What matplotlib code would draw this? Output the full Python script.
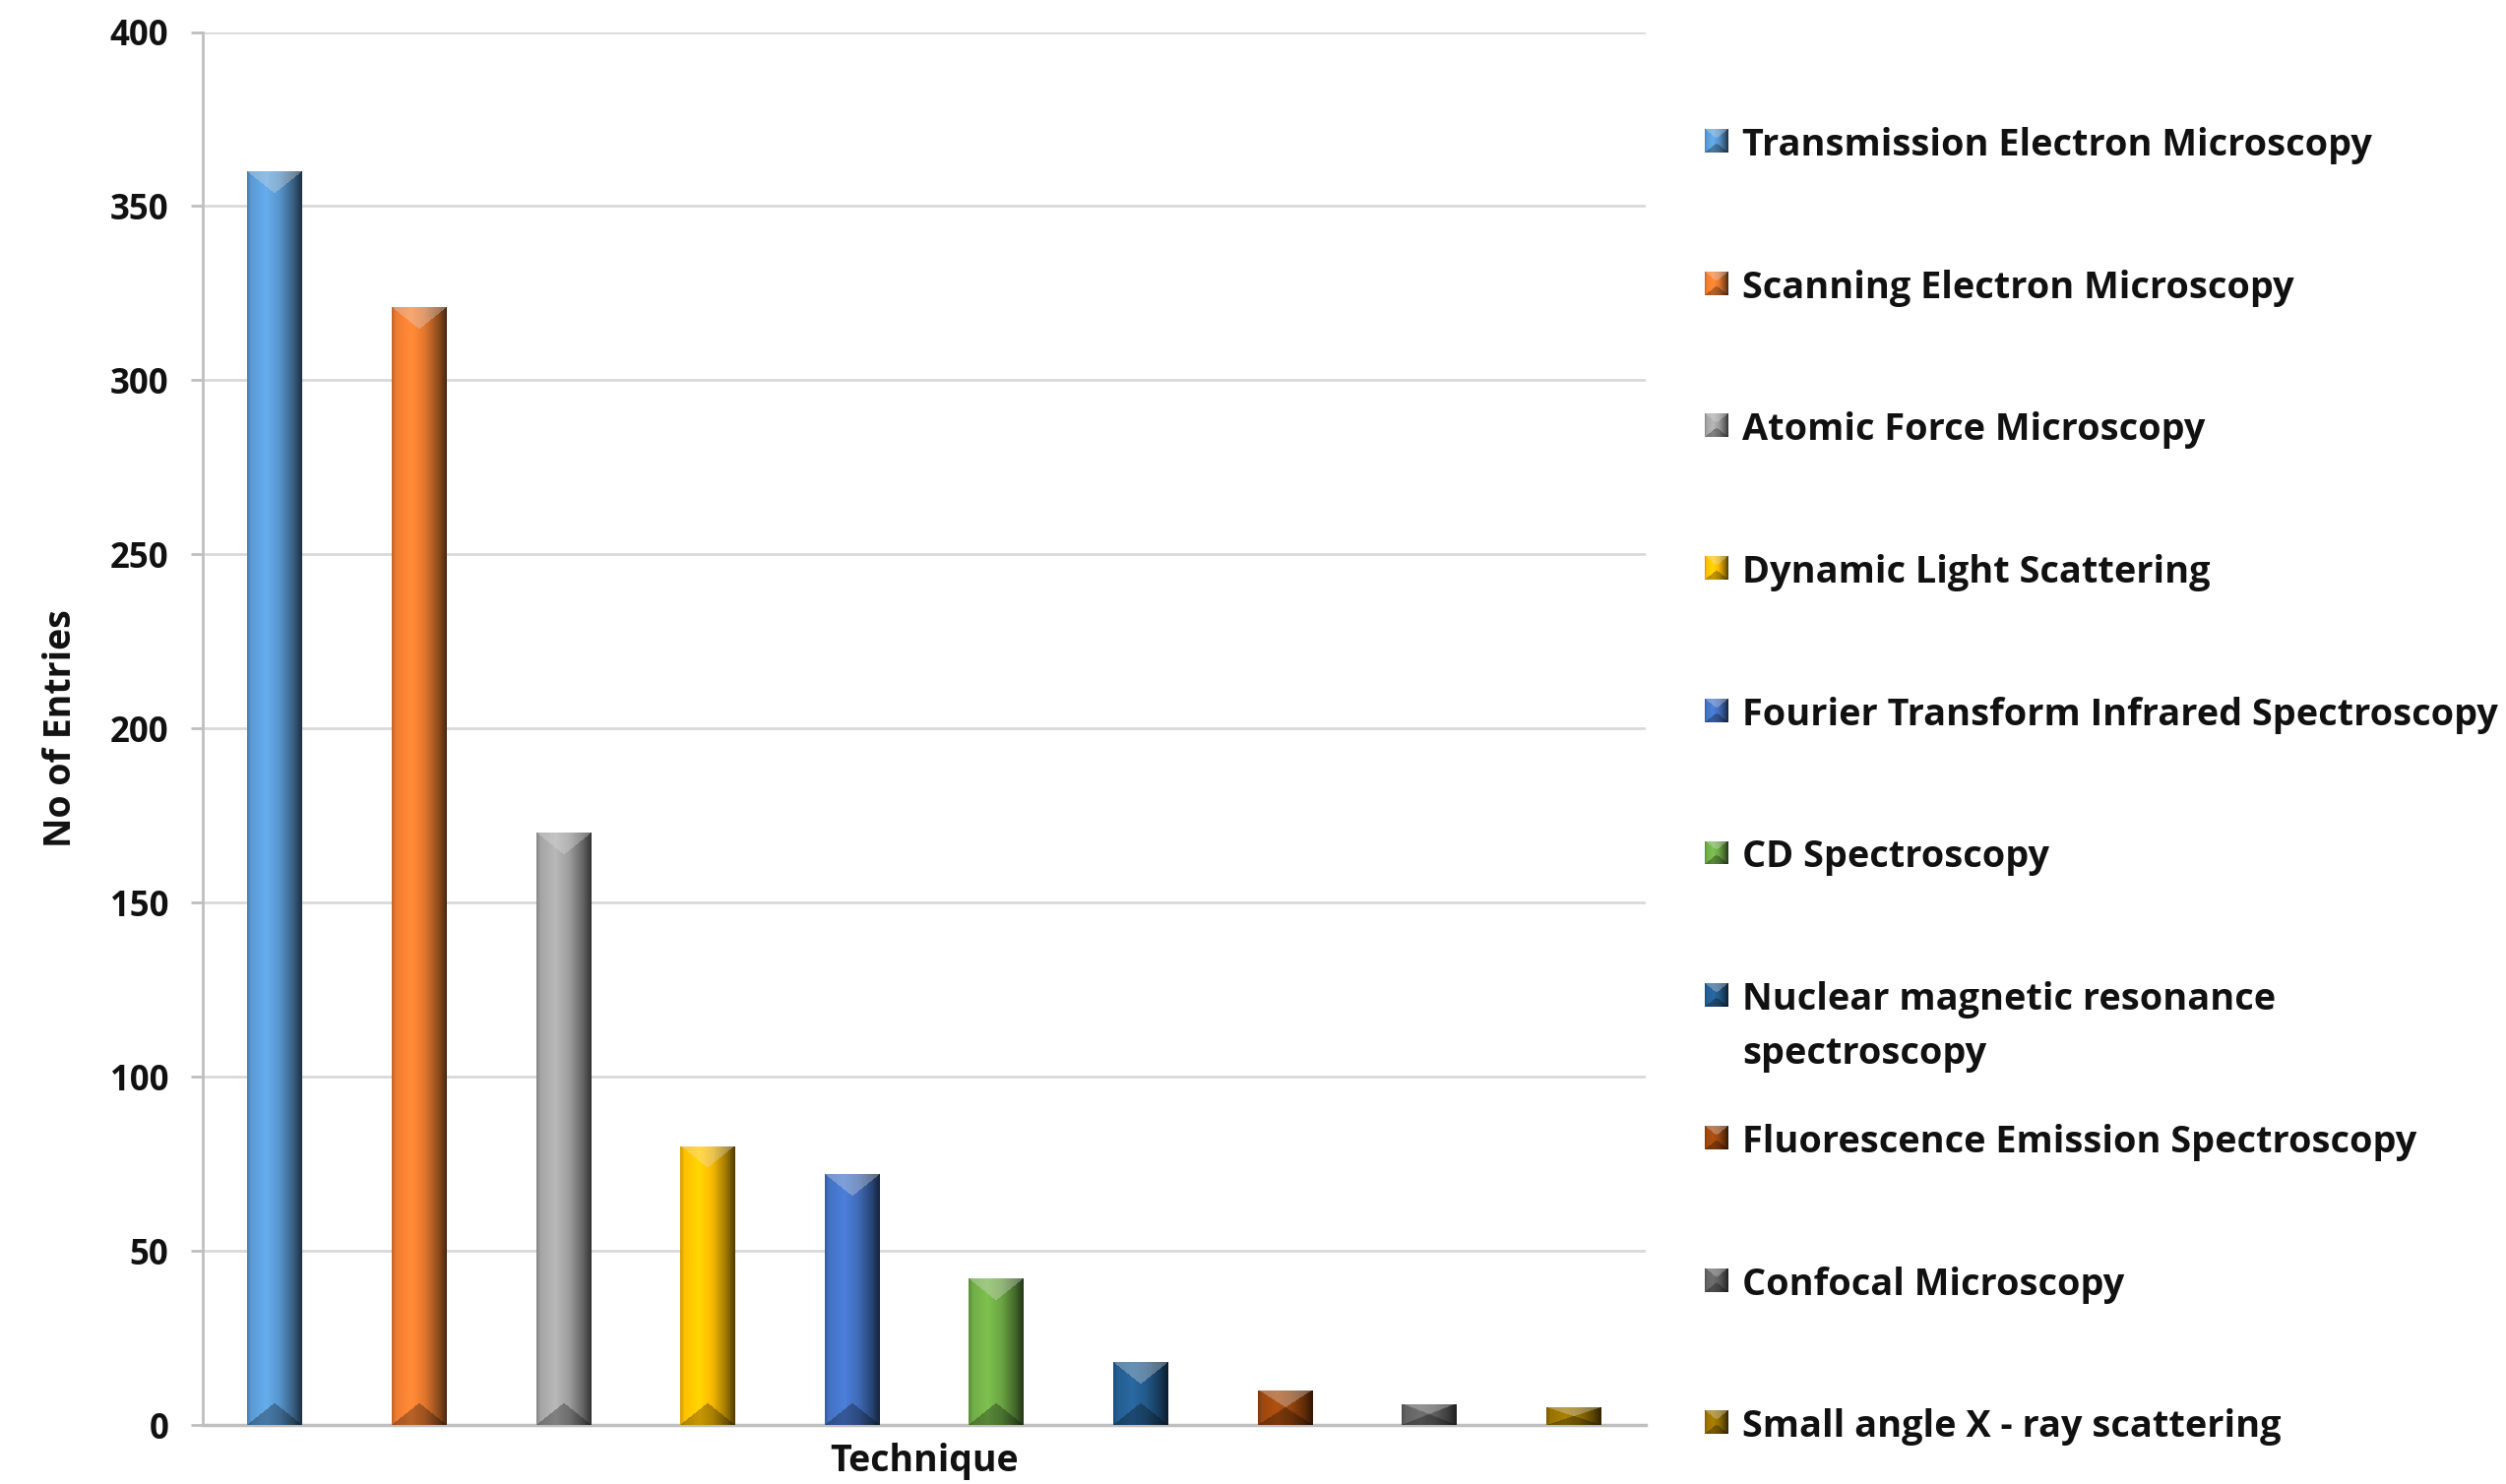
import numpy as np
import matplotlib
matplotlib.use("Agg")
import matplotlib.pyplot as plt
from matplotlib.colors import to_rgb

# Entries per characterisation technique
techniques = [
    "Transmission Electron Microscopy",
    "Scanning Electron Microscopy",
    "Atomic Force Microscopy",
    "Dynamic Light Scattering",
    "Fourier Transform Infrared Spectroscopy",
    "CD Spectroscopy",
    "Nuclear magnetic resonance\nspectroscopy",
    "Fluorescence Emission Spectroscopy",
    "Confocal Microscopy",
    "Small angle X - ray scattering",
]
entries = [360, 321, 170, 80, 72, 42, 18, 10, 6, 5]
colors = ["#5b9bd5", "#ed7d31", "#a5a5a5", "#ffc000", "#4472c4",
          "#70ad47", "#255e91", "#9e480e", "#636363", "#997300"]
yticks = [0, 50, 100, 150, 200, 250, 300, 350, 400]

W, H = 2546, 1508
FONT = "Open Sans"
FS = 27.3
TXT = "#111111"
GRID = "#d9d9d9"
AXC = "#bfbfbf"


def bevel_image(color, w_px, h_px):
  w = max(int(round(w_px)), 2)
  h = max(int(round(h_px)), 2)
  base = np.array(to_rgb(color))
  x = (np.arange(w) + 0.5) / w
  # cylinder-like shading across the bar
  prof = np.interp(x, [0, 0.08, 0.35, 0.6, 0.85, 1.0],
                   [0.8, 1.0, 1.12, 0.95, 0.6, 0.3])
  img = base[None, None, :] * prof[None, :, None] * np.ones((h, 1, 1))
  yy = np.arange(h)[:, None] + 0.5
  xx = np.arange(w)[None, :] + 0.5
  tri = 1 - np.abs(xx - w / 2) / (w / 2)
  depth = min(0.4 * w, h / 2)
  top = yy < depth * tri
  bottom = (h - yy) < depth * tri
  img[top] = img[top] * 0.65 + 0.3
  img[bottom] = img[bottom] * 0.7
  return np.clip(img, 0, 1)


fig = plt.figure(figsize=(W / 100, H / 100), dpi=100)
ax_l, ax_r = 206 / W, 1672 / W
ax_b, ax_t = 1 - 1448 / H, 1 - 32.5 / H
ax = fig.add_axes([ax_l, ax_b, ax_r - ax_l, ax_t - ax_b])

x = np.arange(len(entries))
bar_w = 0.38
ax.set_xlim(-0.5, len(entries) - 0.5)
ax.set_ylim(0, 400)
bars = ax.bar(x, entries, width=bar_w, color=colors, zorder=3)

px_x = (ax_r - ax_l) * W / len(entries)
px_y = (ax_t - ax_b) * H / 400
for b, c in zip(bars, colors):
  x0, w, h = b.get_x(), b.get_width(), b.get_height()
  im = ax.imshow(bevel_image(c, w * px_x, h * px_y), extent=(x0, x0 + w, 0, h),
                 aspect="auto", interpolation="bilinear", zorder=4)
  im.set_clip_path(b)

ax.set_xlim(-0.5, len(entries) - 0.5)
ax.set_ylim(0, 400)
ax.set_yticks(yticks)
ax.set_xticks([])
ax.yaxis.grid(True, color=GRID, lw=2, zorder=0)
ax.set_axisbelow(True)
for s in ["top", "right"]:
  ax.spines[s].set_visible(False)
ax.spines["left"].set_color(AXC)
ax.spines["left"].set_linewidth(2)
ax.spines["bottom"].set_color(AXC)
ax.spines["bottom"].set_linewidth(2.5)
ax.tick_params(axis="y", direction="out", length=9, width=2, color=AXC,
               labelsize=25, labelcolor=TXT, pad=16)
for lab in ax.get_yticklabels():
  lab.set_fontfamily(FONT)
  lab.set_fontweight("bold")

ax.set_xlabel("Technique", fontsize=27, fontweight="bold", family=FONT,
              color=TXT, labelpad=13)
ax.set_ylabel("No of Entries", fontsize=27, fontweight="bold", family=FONT,
              color=TXT, labelpad=22)

# legend on the right, one row per technique
sw = 24
for i, (name, c) in enumerate(zip(techniques, colors)):
  yc = 143 + 144.7 * i
  sax = fig.add_axes([1732 / W, 1 - (yc + sw / 2) / H, sw / W, sw / H])
  sax.imshow(bevel_image(c, sw, sw), aspect="auto", interpolation="bilinear")
  sax.axis("off")
  for j, line in enumerate(name.split("\n")):
    fig.text(1770 / W, 1 - (yc + 5 + 55 * j) / H, line, fontsize=FS,
             fontweight="bold", family=FONT, color=TXT, va="center")

fig.savefig("out.png", dpi=100, facecolor="white")
